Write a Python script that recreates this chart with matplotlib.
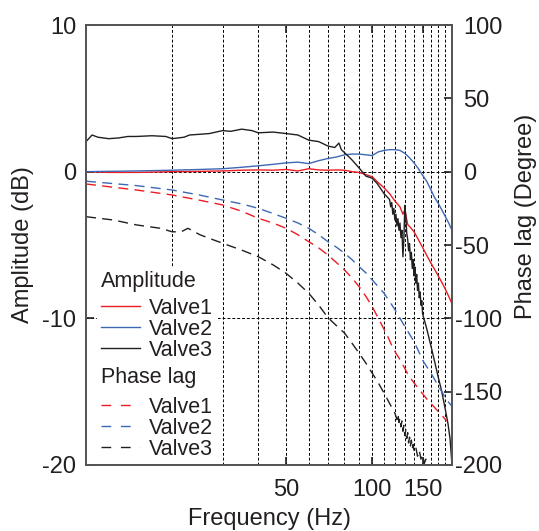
import matplotlib
matplotlib.use("Agg")
import matplotlib.pyplot as plt
from matplotlib.lines import Line2D
from matplotlib.ticker import FixedLocator, NullFormatter
from matplotlib.transforms import ScaledTranslation

plt.rcParams["font.family"] = ["Liberation Sans", "DejaVu Sans"]
plt.rcParams["axes.unicode_minus"] = False

# Amplitude (dB), left axis
f_amp1 = [10, 12, 15, 20, 25, 30, 35, 40, 45, 50, 55, 60, 65, 70, 75, 80, 85, 90, 95, 100,
          105, 110, 115, 120, 125, 128, 130, 133, 136, 140, 145, 150, 155, 160, 165, 170,
          175, 180, 185, 190]
amp1 = [0, -0.05, -0.05, 0, 0.02, 0.05, 0.1, 0.12, 0.1, 0.15, 0.05, 0.2, 0.12, 0.1, 0.12,
        0.1, 0.0, -0.05, -0.2, -0.35, -0.75, -1.1, -1.5, -2.0, -2.4, -2.9, -2.6, -3.6, -3.8,
        -4.1, -4.64, -5.17, -5.7, -6.2, -6.65, -7.1, -7.55, -8.0, -8.5, -9.0]

f_amp2 = [10, 15, 20, 25, 30, 35, 40, 45, 50, 55, 60, 65, 70, 75, 80, 85, 90, 95, 100, 105,
          110, 115, 120, 125, 130, 135, 140, 145, 150, 155, 160, 165, 170, 175, 180, 185, 190]
amp2 = [0, 0.05, 0.1, 0.15, 0.2, 0.3, 0.4, 0.5, 0.6, 0.65, 0.55, 0.75, 0.9, 1.0, 1.15, 1.2,
        1.2, 1.15, 1.1, 1.35, 1.45, 1.5, 1.5, 1.45, 1.25, 0.95, 0.6, 0.2, -0.25, -0.65, -1.2,
        -1.75, -2.15, -2.6, -3.05, -3.5, -4.0]

f_amp3 = [10, 10.5, 11, 12, 13, 14, 15, 17, 19, 20, 21, 22, 23, 25, 27, 30, 32, 35, 38, 40,
          45, 50, 55, 60, 65, 70, 74, 76.5, 78, 80, 85, 90, 95, 100, 104, 110,
          115, 116, 117, 118, 119, 120, 121, 122, 123, 124, 125, 126, 127, 128, 129, 130,
          131, 132, 133, 134, 135, 136, 137, 138, 139, 140, 141, 142, 143, 144, 145, 146,
          147, 148, 149, 150, 155, 160, 165, 170, 175, 180, 184, 187, 190]
amp3 = [2.05, 2.5, 2.35, 2.25, 2.3, 2.4, 2.4, 2.45, 2.4, 2.25, 2.3, 2.35, 2.5, 2.55, 2.6,
        2.8, 2.75, 2.9, 2.8, 2.65, 2.7, 2.6, 2.5, 2.15, 2.05, 1.75, 1.65, 1.95, 1.5, 1.3, 0.8,
        0.25, -0.3, -0.45, -0.8, -1.5,
        -1.9, -2.4, -2.1, -2.9, -2.5, -3.3, -2.9, -3.7, -3.2, -4.0, -3.5, -4.5, -4.0, -5.8,
        -4.6, -2.3, -3.0, -4.2, -4.6, -5.4, -4.9, -6.0, -5.5, -6.6, -6.0, -7.1, -6.5, -7.6,
        -7.0, -8.1, -7.6, -8.6, -8.2, -9.1, -8.8, -9.7, -10.7, -11.8, -12.9, -14.0, -15.0,
        -16.2, -17.2, -18.2, -20.0]

# Phase lag (degree), right axis
f_ph1 = [10, 15, 20, 25, 30, 35, 40, 45, 50, 55, 60, 65, 70, 75, 80, 85, 90, 95, 100, 107,
         113, 119, 124, 129, 134, 140, 148, 156, 162, 168, 175, 182]
ph1 = [-8.4, -12.5, -15.9, -19.5, -22.7, -27, -31.8, -35, -38.6, -43, -47.7, -52, -56.8,
       -62, -67, -72.5, -78.4, -85, -92, -103, -112, -121.5, -127, -133, -139, -144, -150,
       -155.6, -159, -162.4, -166, -170]

f_ph2 = [10, 15, 20, 25, 30, 35, 40, 45, 50, 55, 60, 65, 70, 75, 80, 85, 90, 95, 100, 110,
         120, 129, 140, 151, 160, 168, 175, 182, 190]
ph2 = [-6.5, -9.5, -12.5, -16, -19.3, -22, -25, -28.5, -31.8, -35, -38.6, -43, -47.7, -51.5,
       -55.6, -60, -64.8, -69, -73.8, -82.9, -94, -104.5, -115.9, -129.5, -137, -144.2, -150,
       -155.6, -160]

f_ph3 = [10, 12.5, 15, 18.2, 20, 21.5, 22.7, 25, 27, 30, 35, 40, 45, 50, 55, 60, 65, 70, 75,
         80, 85, 90, 95, 100, 105, 110, 115, 120, 122, 123, 124, 125, 126, 127, 128, 129,
         130, 131, 132, 133, 134, 135, 136, 137, 138, 139, 140, 142, 144, 146, 148, 150, 152,
         154, 156]
ph3 = [-30.7, -33, -36.3, -38.6, -41, -41, -38.6, -43, -45.5, -48.8, -53.5, -58, -63.5,
       -69.3, -76, -82.9, -91, -99.5, -105, -110, -117, -123.8, -130.5, -137.4, -144, -151,
       -158, -164.7, -169, -165, -171, -168, -174, -170, -177, -173, -180, -176, -182, -178,
       -185, -181, -187, -183, -189, -186, -191, -188, -194, -190, -196, -193, -199, -196,
       -200]

phase_ticks = [-200, -150, -100, -50, 0, 50, 100]
labels = ["Valve1", "Valve2", "Valve3"]
colors = ["#ed1c24", "#3d68b4", "#231f20"]
txt = "#231f20"
dash = (0, (7.2, 4.5))

fig = plt.figure(figsize=(5.39, 5.31), dpi=100)
ax = fig.add_axes([0.1596, 0.1243, 0.679, 0.8286])
ax2 = ax.twinx()

ax.plot(f_amp1, amp1, color=colors[0], lw=1.0)
ax.plot(f_amp2, amp2, color=colors[1], lw=1.0)
ax.plot(f_amp3, amp3, color=colors[2], lw=1.0)

ax2.plot(f_ph1, ph1, color=colors[0], lw=1.0, linestyle=dash)
ax2.plot(f_ph2, ph2, color=colors[1], lw=1.0, linestyle=dash)
ax2.plot(f_ph3, ph3, color=colors[2], lw=1.0, linestyle=dash)

ax.set_xscale("log")
ax.set_xlim(10, 190)
ax.set_ylim(-20, 10)
ax2.set_ylim(-200, 100)

ax.xaxis.set_major_locator(FixedLocator([50, 100, 150]))
ax.set_xticklabels(["50", "100", "150"])
ax.xaxis.set_minor_locator(FixedLocator([20, 30, 40, 60, 70, 80, 90, 110, 120, 130, 140,
                                         160, 170, 180]))
ax.xaxis.set_minor_formatter(NullFormatter())
ax.set_yticks([-20, -10, 0, 10])
ax2.set_yticks(phase_ticks)
ax2.set_yticklabels([str(v) for v in phase_ticks])

ax.grid(True, which="both", axis="x", color="black", lw=0.7, linestyle=(0, (3, 2)))
ax.grid(True, which="major", axis="y", color="black", lw=0.7, linestyle=(0, (3, 2)))

ax.tick_params(axis="x", which="major", direction="in", top=True, length=6, width=1.2,
               labelsize=17, pad=10, colors=txt)
ax.tick_params(axis="x", which="minor", length=0)
ax.tick_params(axis="y", direction="in", length=6, width=1.2, labelsize=17, pad=7,
               colors=txt)
ax2.tick_params(axis="y", direction="in", length=6, width=1.2, labelsize=17, pad=8,
                colors=txt)

# negative phase labels: let the minus sign hang left of the digits
shift = ScaledTranslation(-8 / 100, 0, fig.dpi_scale_trans)
for v, tk in zip(phase_ticks, ax2.yaxis.get_major_ticks()):
    if v < 0:
        tk.label2.set_transform(tk.label2.get_transform() + shift)

for a in (ax, ax2):
    for s in a.spines.values():
        s.set_color("#555555")
        s.set_linewidth(1.3)

ax.set_xlabel("Frequency (Hz)", fontsize=17, color=txt, labelpad=5)
ax.set_ylabel("Amplitude (dB)", fontsize=17, color=txt, labelpad=6)
ax2.set_ylabel("Phase lag (Degree)", fontsize=17, color=txt)
ax2.yaxis.set_label_coords(1.172, 0.566)

solid_h = [Line2D([], [], color=c, lw=1.0) for c in colors]
dash_h = [Line2D([], [], color=c, lw=1.0, linestyle=(0, (7, 7))) for c in colors]

common = dict(loc="upper left", fontsize=15.5, title_fontsize=15.5, alignment="left",
              handlelength=1.78, handletextpad=0.45, labelspacing=0.0, borderpad=0.2,
              borderaxespad=0, frameon=True, fancybox=False, facecolor="white",
              edgecolor="none", framealpha=1)
leg1 = ax2.legend(solid_h, labels, title="Amplitude", bbox_to_anchor=(0.03, 0.451),
                  **common)
leg1._legend_box.sep = 4.1
ax2.add_artist(leg1)
leg2 = ax2.legend(dash_h, labels, title="Phase lag", bbox_to_anchor=(0.03, 0.2316),
                  **common)
leg2._legend_box.sep = 6.0
for lg in (leg1, leg2):
    for t in lg.get_texts():
        t.set_color(txt)
    lg.get_title().set_color(txt)

fig.savefig("out.png", dpi=100)
